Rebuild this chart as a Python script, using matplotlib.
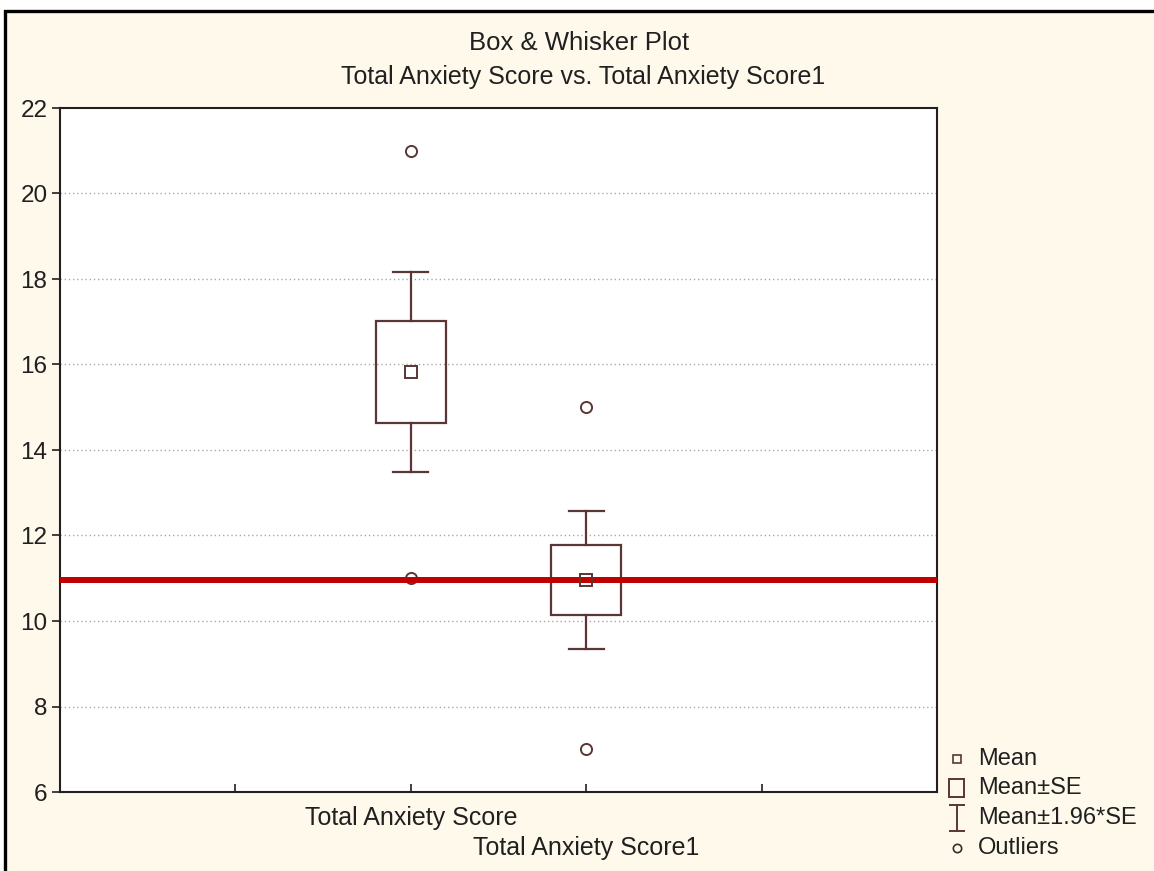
import matplotlib
matplotlib.use("Agg")
import matplotlib.pyplot as plt
from matplotlib.patches import Rectangle
from matplotlib import transforms as mtransforms

plt.rcParams['font.family'] = ['Liberation Sans', 'DejaVu Sans']

# ---- data ----
categories = ['Total Anxiety Score', 'Total Anxiety Score1']
positions = [2, 3]
means = [15.82, 10.96]
std_errors = [1.19, 0.82]
outliers = [[21.0, 11.0], [15.0, 7.0]]
reference_value = 10.95
y_ticks = [6, 8, 10, 12, 14, 16, 18, 20, 22]
title_lines = ['Box & Whisker Plot', 'Total Anxiety Score vs. Total Anxiety Score1']
legend_labels = ['Mean', 'Mean\u00b1SE', 'Mean\u00b11.96*SE', 'Outliers']

W, H = 1154, 871
DPI = 100
BOX_COLOR = '#5a3636'
BG = '#fff9ec'
TXT = '#202020'

fig = plt.figure(figsize=(W / DPI, H / DPI), dpi=DPI, facecolor='white')

# cream panel with dark frame
fig.patches.append(Rectangle((5 / W, -0.02), 1.1, (H - 11) / H + 0.02,
                             transform=fig.transFigure, facecolor=BG,
                             edgecolor='black', linewidth=2.4, zorder=-10))

def px(x0, y0, x1, y1):
    """Figure-fraction rectangle from pixel corners (top-left origin)."""
    return [x0 / W, (H - y1) / H, (x1 - x0) / W, (y1 - y0) / H]

ax = fig.add_axes(px(60, 108, 937, 792))
ax.set_facecolor('white')
ax.set_xlim(0, 5)
ax.set_ylim(6, 22)

# grid
ax.set_yticks(y_ticks)
for v in y_ticks[1:-1]:
    ax.axhline(v, color='#a8a8a8', lw=1.0, ls=(0, (1, 2)), zorder=0)

# boxes (mean +/- SE), whiskers (mean +/- 1.96 SE), outliers
box_w = 0.4
for pos, m, se, outs in zip(positions, means, std_errors, outliers):
    ax.add_patch(Rectangle((pos - box_w / 2, m - se), box_w, 2 * se,
                           facecolor='none', edgecolor=BOX_COLOR, lw=1.6, zorder=3))
    lo, hi = m - 1.96 * se, m + 1.96 * se
    ax.plot([pos, pos], [m + se, hi], color=BOX_COLOR, lw=1.6, zorder=3)
    ax.plot([pos, pos], [lo, m - se], color=BOX_COLOR, lw=1.6, zorder=3)
    for end in (lo, hi):
        ax.plot([pos - 0.1, pos + 0.1], [end, end], color=BOX_COLOR, lw=1.6, zorder=3)
    ax.plot([pos] * len(outs), outs, ls='none', marker='o', ms=8,
            mfc='none', mec=BOX_COLOR, mew=1.4, zorder=4)

ax.axhline(reference_value, color='#c00000', lw=4.3, zorder=5)

# mean markers
ax.plot(positions, means, ls='none', marker='s', ms=8.5, mfc='none',
        mec=BOX_COLOR, mew=1.4, zorder=6)

# axes styling
for s in ax.spines.values():
    s.set_linewidth(1.5)
    s.set_color(TXT)
ax.tick_params(axis='y', direction='out', length=6, width=1.2, labelsize=17.5,
               pad=3, colors=TXT)
ax.set_xticks([1, 2, 3, 4])
ax.set_xticklabels([])
ax.tick_params(axis='x', direction='in', length=6, width=1.2, colors=TXT)

# staggered category labels
trans = mtransforms.blended_transform_factory(ax.transData, ax.transAxes)
for i, (pos, lab) in enumerate(zip(positions, categories)):
    off = mtransforms.ScaledTranslation(0, -(26 + 30 * i) / DPI, fig.dpi_scale_trans)
    ax.text(pos, 0, lab, transform=trans + off, ha='center', va='center',
            fontsize=18, color=TXT)

# titles
fig.text(579 / W, 1 - 43 / H, title_lines[0], ha='center', va='center',
         fontsize=18.5, color=TXT)
fig.text(583 / W, 1 - 77 / H, title_lines[1], ha='center', va='center',
         fontsize=18, color=TXT)

# legend panel, in pixel units
lax = fig.add_axes(px(940, 740, 1154, 871))
lax.set_xlim(940, 1154)
lax.set_ylim(871, 740)
lax.axis('off')
rows = [759, 788, 818, 848]
lax.plot([957], [rows[0]], marker='s', ms=6, mfc='none', mec=BOX_COLOR, mew=1.2)
lax.add_patch(Rectangle((949, rows[1] - 9), 15, 18, facecolor='none',
                        edgecolor=BOX_COLOR, lw=1.4))
lax.plot([957, 957], [rows[2] - 13, rows[2] + 13], color=BOX_COLOR, lw=1.4)
lax.plot([950, 964], [rows[2] - 13, rows[2] - 13], color=BOX_COLOR, lw=1.4)
lax.plot([950, 964], [rows[2] + 13, rows[2] + 13], color=BOX_COLOR, lw=1.4)
lax.plot([957], [rows[3]], marker='o', ms=6, mfc='none', mec='#303030', mew=1.2)
for y, lab in zip(rows, legend_labels):
    lax.text(978, y, lab, ha='left', va='center', fontsize=17, color=TXT)

fig.savefig('out.png', dpi=DPI, facecolor=fig.get_facecolor())
